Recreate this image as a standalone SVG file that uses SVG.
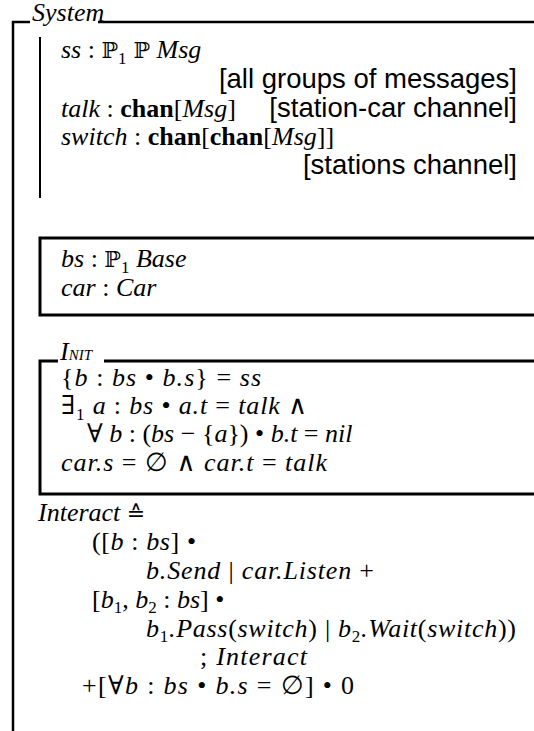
<svg xmlns="http://www.w3.org/2000/svg" width="534" height="731" viewBox="0 0 534 731">
<style>
.m{font-family:'Liberation Serif','DejaVu Serif',serif;font-size:26px;font-style:italic;fill:#000}
.r{font-style:normal}
.bf{font-weight:bold;font-style:normal}
.dj{font-family:'DejaVu Serif','Liberation Serif',serif;font-style:normal;font-size:22px}
.ds{font-family:'DejaVu Sans','Liberation Sans',sans-serif;font-style:normal;font-size:22px}
.sub{font-size:17px;font-style:normal}
.h{font-family:'Liberation Sans',Arial,sans-serif;font-size:27.5px;fill:#000}
.ln{stroke:#000;fill:none}
</style>
<rect width="534" height="731" fill="#fff"/>
<g id="frames">
<path class="ln" stroke-width="2.5" d="M13,731 V22 H30 M98,22 H534"/>
<path class="ln" stroke-width="2" d="M40,37 V198"/>
<path class="ln" stroke-width="3" d="M534,238 H40 V315 H534"/>
<path class="ln" stroke-width="3" d="M58,361 H40 V494 H534 M104,361 H534"/>
</g>
<g id="title">
<text class="m" x="32" y="21" font-size="17">System</text>
</g>
<g id="declarations">
<text class="m" x="61" y="58">ss<tspan class="r"> : </tspan><tspan class="dj">ℙ</tspan><tspan class="sub" dy="6">1</tspan><tspan class="dj" dy="-6"> ℙ</tspan> Msg</text>
<text class="h" x="517" y="88" text-anchor="end">[all groups of messages]</text>
<text class="m" x="61" y="117">talk<tspan class="r"> : </tspan><tspan class="bf">chan</tspan><tspan class="r">[</tspan>Msg<tspan class="r">]</tspan></text>
<text class="h" x="517" y="117" text-anchor="end">[station-car channel]</text>
<text class="m" x="61" y="145">switch<tspan class="r"> : </tspan><tspan class="bf">chan</tspan><tspan class="r">[</tspan><tspan class="bf">chan</tspan><tspan class="r">[</tspan>Msg<tspan class="r">]]</tspan></text>
<text class="h" x="517" y="174" text-anchor="end">[stations channel]</text>
</g>
<g id="state">
<text class="m" x="61" y="267">bs<tspan class="r"> : </tspan><tspan class="dj">ℙ</tspan><tspan class="sub" dy="6">1</tspan><tspan dy="-6"> Base</tspan></text>
<text class="m" x="61" y="296">car<tspan class="r"> : </tspan>Car</text>
</g>
<g id="init">
<text class="m" x="60" y="360" font-size="21">I<tspan font-size="15">NIT</tspan></text>
<text class="m" x="61" y="386" textLength="200"><tspan class="r">{</tspan>b<tspan class="r"> : </tspan>bs <tspan class="r">•</tspan> b.s<tspan class="r">} = </tspan>ss</text>
<text class="m" x="61" y="414" textLength="246"><tspan class="r">∃</tspan><tspan class="sub" dy="6">1</tspan><tspan dy="-6"> a</tspan><tspan class="r"> : </tspan>bs <tspan class="r">•</tspan> a.t <tspan class="r">=</tspan> talk <tspan class="r">∧</tspan></text>
<text class="m" x="87" y="442"><tspan class="r">∀</tspan> b<tspan class="r"> : (</tspan>bs <tspan class="r">− {</tspan>a<tspan class="r">}) •</tspan> b.t <tspan class="r">=</tspan> nil</text>
<text class="m" x="61" y="471" textLength="266">car.s <tspan class="r">= ∅ ∧</tspan> car.t <tspan class="r">=</tspan> talk</text>
</g>
<g id="interact">
<text class="m" x="38" y="521">Interact <tspan class="ds">≙</tspan></text>
<text class="m" x="92" y="550" textLength="104"><tspan class="r">([</tspan>b<tspan class="r"> : </tspan>bs<tspan class="r">] •</tspan></text>
<text class="m" x="146" y="579" textLength="228">b.Send <tspan class="r">|</tspan> car.Listen <tspan class="r">+</tspan></text>
<text class="m" x="92" y="608"><tspan class="r">[</tspan>b<tspan class="sub" dy="5">1</tspan><tspan class="r" dy="-5">, </tspan>b<tspan class="sub" dy="5">2</tspan><tspan class="r" dy="-5"> : </tspan>bs<tspan class="r">] •</tspan></text>
<text class="m" x="146" y="637" textLength="370">b<tspan class="sub" dy="5">1</tspan><tspan dy="-5">.Pass</tspan><tspan class="r">(</tspan>switch<tspan class="r">) | </tspan>b<tspan class="sub" dy="5">2</tspan><tspan dy="-5">.Wait</tspan><tspan class="r">(</tspan>switch<tspan class="r">))</tspan></text>
<text class="m" x="200" y="665" textLength="107"><tspan class="r">; </tspan>Interact</text>
<text class="m" x="82" y="694" textLength="272"><tspan class="r">+[∀</tspan>b<tspan class="r"> : </tspan>bs <tspan class="r">•</tspan> b.s <tspan class="r">= ∅] • 0</tspan></text>
</g>
</svg>
